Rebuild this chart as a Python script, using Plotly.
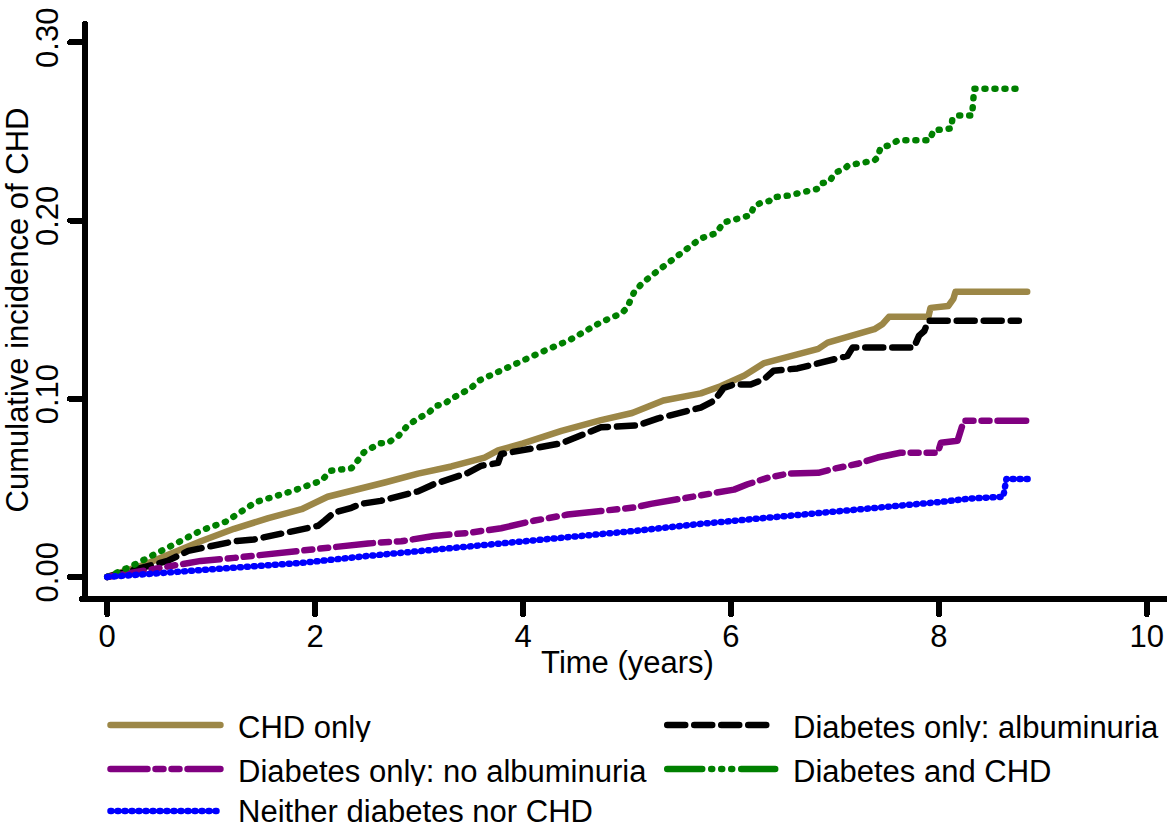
import plotly.graph_objects as go

# ---- cumulative incidence of CHD by group (time in years) ----
chd_only_t = [0, 0.36, 0.9, 1.22, 1.55, 1.87, 2.12, 2.35, 2.67, 2.99, 3.31, 3.63, 3.76,
              4.0, 4.37, 4.75, 5.05, 5.35, 5.71, 5.9, 6.13, 6.32, 6.48, 6.67, 6.84, 6.93,
              7.09, 7.22, 7.38, 7.46, 7.52, 7.90, 7.92, 8.09, 8.14, 8.16, 8.85]
chd_only_y = [0, 0.007, 0.020, 0.027, 0.033, 0.038, 0.045, 0.048, 0.053, 0.058, 0.062, 0.067, 0.071,
              0.075, 0.082, 0.088, 0.092, 0.099, 0.103, 0.107, 0.113, 0.120, 0.1225, 0.125, 0.128, 0.1315,
              0.134, 0.1365, 0.139, 0.142, 0.146, 0.146, 0.151, 0.152, 0.156, 0.160, 0.160]

alb_t = [0, 0.42, 0.58, 0.78, 1.03, 1.22, 1.41, 1.70, 1.93, 2.03, 2.09, 2.18, 2.35, 2.44, 2.63,
         2.83, 2.99, 3.14, 3.31, 3.47, 3.6, 3.76, 3.79, 3.98, 4.37, 4.75, 5.1, 5.3, 5.6, 5.71,
         5.84, 5.93, 6.03, 6.19, 6.32, 6.41, 6.64, 6.74, 6.8, 6.99, 7.12, 7.17, 7.76, 7.81,
         7.86, 7.90, 8.77]
alb_y = [0, 0.006, 0.009, 0.0146, 0.0174, 0.020, 0.021, 0.0247, 0.0275, 0.0287, 0.0315, 0.036, 0.0388,
         0.041, 0.0427, 0.0455, 0.048, 0.052, 0.0556, 0.0584, 0.0624, 0.064, 0.069, 0.071, 0.075,
         0.084, 0.085, 0.089, 0.093, 0.095, 0.099, 0.106, 0.108, 0.108, 0.111, 0.1157, 0.117,
         0.1185, 0.120, 0.122, 0.124, 0.1287, 0.1287, 0.1354, 0.138, 0.1438, 0.1438]

noalb_t = [0, 0.58, 0.9, 1.22, 1.55, 1.87, 2.18, 2.51, 2.83, 3.14, 3.47, 3.79, 4.1, 4.43, 4.75,
           5.07, 5.23, 5.39, 5.71, 6.03, 6.16, 6.35, 6.55, 6.84, 6.99, 7.22, 7.41, 7.63, 7.99,
           8.02, 8.18, 8.21, 8.24, 8.84]
noalb_y = [0, 0.006, 0.009, 0.0107, 0.013, 0.0145, 0.0174, 0.0188, 0.020, 0.023, 0.0247, 0.0273,
           0.0315, 0.035, 0.037, 0.039, 0.041, 0.0427, 0.0455, 0.049, 0.052, 0.0556, 0.058, 0.0584,
           0.0607, 0.0635, 0.067, 0.0697, 0.0697, 0.0753, 0.0764, 0.081, 0.0876, 0.0876]

both_t = [0, 0.23, 0.52, 0.9, 1.14, 1.43, 1.77, 1.87, 2.06, 2.15, 2.35, 2.42, 2.47, 2.62, 2.70,
          2.80, 2.89, 2.99, 3.09, 3.16, 3.24, 3.31, 3.40, 3.50, 3.57, 4.0, 4.17, 4.45, 4.75,
          4.95, 5.0, 5.07, 5.15, 5.3, 5.5, 5.71, 5.86, 5.93, 6.0, 6.12, 6.19, 6.22, 6.29, 6.37,
          6.4, 6.55, 6.64, 6.69, 6.85, 6.88, 6.95, 6.98, 7.01, 7.09, 7.13, 7.22, 7.30, 7.38,
          7.41, 7.44, 7.51, 7.61, 7.91, 7.95, 8.12, 8.13, 8.19, 8.32, 8.34, 8.76]
both_y = [0, 0.006, 0.0146, 0.026, 0.031, 0.042, 0.048, 0.050, 0.054, 0.0596, 0.061, 0.066, 0.070,
          0.075, 0.0753, 0.079, 0.085, 0.089, 0.092, 0.096, 0.097, 0.100, 0.103, 0.106, 0.110,
          0.122, 0.126, 0.133, 0.143, 0.148, 0.151, 0.160, 0.165, 0.172, 0.181, 0.190, 0.193,
          0.199, 0.200, 0.2017, 0.203, 0.208, 0.210, 0.211, 0.213, 0.214, 0.215, 0.216, 0.218,
          0.221, 0.222, 0.225, 0.227, 0.229, 0.231, 0.232, 0.233, 0.2337, 0.2354, 0.241, 0.242,
          0.245, 0.245, 0.2506, 0.2517, 0.257, 0.259, 0.259, 0.274, 0.274]

neither_t = [0, 0.58, 1.22, 1.87, 2.51, 2.83, 3.79, 4.43, 5.07, 5.71, 6.03, 6.19, 6.6, 7.0,
             7.5, 8.0, 8.3, 8.62, 8.65, 8.88]
neither_y = [0, 0.0022, 0.005, 0.0079, 0.0118, 0.0135, 0.0185, 0.022, 0.0258, 0.0298, 0.0315,
             0.0326, 0.034, 0.0365, 0.039, 0.042, 0.044, 0.045, 0.055, 0.055]

group_names = ["CHD only", "Diabetes only: albuminuria", "Diabetes only: no albuminuria",
               "Diabetes and CHD", "Neither diabetes nor CHD"]

x_ticks = [0, 2, 4, 6, 8, 10]
y_ticks = [0.0, 0.1, 0.2, 0.3]
y_tick_text = ["0.00", "0.10", "0.20", "0.30"]

# ---- styling ----
FONT = "Liberation Sans, Arial, sans-serif"
FS = 31
W, H = 1167, 827
PLOT_L, PLOT_R, PLOT_T, PLOT_B = 87.5, 1167, 24, 596
LW = 6.5

styles = {
    "CHD only": dict(color="#9C8747", dash="solid", key_dash="solid"),
    "Diabetes only: albuminuria": dict(color="#000000", dash="18px,9px", key_dash="18px,9px"),
    "Diabetes only: no albuminuria": dict(color="#800080", dash="37px,8px,8px,8px,8px,8px",
                                          key_dash="37px,8px,8px,8px,8px,8px"),
    "Diabetes and CHD": dict(color="#008000", dash="1px,9px",
                             key_dash="35px,9px,1px,9px,1px,9px,1px,9px"),
    "Neither diabetes nor CHD": dict(color="#0000FF", dash="1px,6px", key_dash="1px,6px"),
}

series = {
    "CHD only": (chd_only_t, chd_only_y),
    "Diabetes only: albuminuria": (alb_t, alb_y),
    "Diabetes only: no albuminuria": (noalb_t, noalb_y),
    "Diabetes and CHD": (both_t, both_y),
    "Neither diabetes nor CHD": (neither_t, neither_y),
}

fig = go.Figure()
for name in group_names:
    t, y = series[name]
    st = styles[name]
    fig.add_trace(go.Scatter(x=t, y=y, mode="lines", name=name, showlegend=False,
                             line=dict(color=st["color"], width=LW, dash=st["dash"])))


def px_x(px):
    return (px - PLOT_L) / (PLOT_R - PLOT_L)


def px_y(py):
    return (PLOT_B - py) / (PLOT_B - PLOT_T)


# ---- legend: two columns, filled row by row ----
key_cols = [(110, 220, 237), (667, 775, 792)]
key_rows = [725, 769, 811]
text_rows = [727, 771, 811]
shapes, annotations = [], []
for i, name in enumerate(group_names):
    row, col = divmod(i, 2)
    kx0, kx1, tx = key_cols[col]
    ky = key_rows[row]
    st = styles[name]
    shapes.append(dict(type="line", xref="paper", yref="paper",
                       x0=px_x(kx0), x1=px_x(kx1), y0=px_y(ky), y1=px_y(ky),
                       line=dict(color=st["color"], width=LW, dash=st["key_dash"])))
    annotations.append(dict(text=name, xref="paper", yref="paper", x=px_x(tx),
                            y=px_y(text_rows[row]),
                            xanchor="left", yanchor="middle", showarrow=False,
                            height=30, valign="middle", borderpad=0,
                            font=dict(family=FONT, size=FS, color="black")))

fig.update_layout(
    width=W, height=H, template="none",
    paper_bgcolor="white", plot_bgcolor="white",
    margin=dict(l=PLOT_L, r=W - PLOT_R, t=PLOT_T, b=H - PLOT_B),
    font=dict(family=FONT, size=FS, color="black"),
    shapes=shapes, annotations=annotations,
    showlegend=False,
)
fig.update_xaxes(
    range=[-0.185, 10.195], tickvals=x_ticks, ticktext=[str(v) for v in x_ticks],
    showline=True, linewidth=6, linecolor="black", mirror=False,
    ticks="outside", ticklen=12, tickwidth=6, tickcolor="black",
    showgrid=False, zeroline=False, automargin=False,
    tickfont=dict(family=FONT, size=FS), ticklabelstandoff=-4,
    title=dict(text="Time (years)", font=dict(family=FONT, size=FS), standoff=0),
)
fig.update_yaxes(
    range=[-0.0107, 0.3103], tickvals=y_ticks, ticktext=y_tick_text, tickangle=-90,
    showline=True, linewidth=6, linecolor="black", mirror=False,
    ticks="outside", ticklen=12, tickwidth=6, tickcolor="black",
    showgrid=False, zeroline=False, automargin=False,
    tickfont=dict(family=FONT, size=FS),
    title=dict(text="Cumulative incidence of CHD", font=dict(family=FONT, size=FS), standoff=6),
)

round_caps = """
var st = document.createElement('style');
st.textContent = '.main-svg path { stroke-linecap: round; stroke-linejoin: round; }';
document.head.appendChild(st);
"""
fig.write_html("out.html", post_script=round_caps)
